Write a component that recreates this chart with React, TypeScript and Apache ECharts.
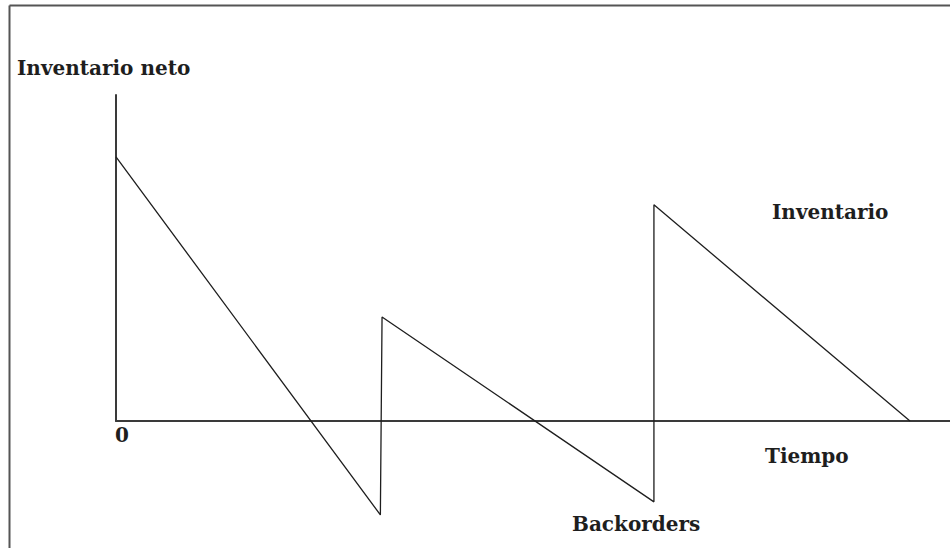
import React, { useEffect, useRef } from "react";
import * as echarts from "echarts";

// Inventory sawtooth (time, net inventory)
const times = [0, 3.17, 3.19, 6.45, 6.45, 9.52];
const netInventory = [8.1, -2.88, 3.19, -2.48, 6.63, 0];

const yAxisTitle = "Inventario neto";
const xAxisTitle = "Tiempo";
const zeroLabel = "0";
const inventoryLabel = "Inventario";
const backorderLabel = "Backorders";

export default function App() {
  const ref = useRef<HTMLDivElement>(null);
  useEffect(() => {
    if (!ref.current) return;
    const chart = echarts.init(ref.current, undefined, { renderer: "svg" });
    const font = "DejaVu Serif";
    const txt = (text: string, x: number, y: number) => ({
      type: "text",
      x,
      y,
      style: {
        text,
        fill: "#1e1e1e",
        font: `bold 20px "${font}"`,
        align: "left",
        verticalAlign: "middle",
      },
    });
    chart.setOption({
      animation: false,
      backgroundColor: "#ffffff",
      grid: { left: 116, right: 0, top: 95, bottom: 127 },
      xAxis: {
        type: "value",
        min: 0,
        max: 10,
        axisLine: { show: true, lineStyle: { color: "#3a3a3a", width: 2 } },
        axisTick: { show: false },
        axisLabel: { show: false },
        splitLine: { show: false },
      },
      yAxis: {
        type: "value",
        min: 0,
        max: 10,
        axisLine: { show: true, lineStyle: { color: "#3a3a3a", width: 2 } },
        axisTick: { show: false },
        axisLabel: { show: false },
        splitLine: { show: false },
      },
      series: [
        {
          type: "line",
          clip: false,
          symbol: "none",
          data: times.map((t, i) => [t, netInventory[i]]),
          lineStyle: { color: "#1e1e1e", width: 1.3 },
        },
      ],
      graphic: [
        {
          type: "line",
          shape: { x1: 9.5, y1: 5.5, x2: 950, y2: 5.5 },
          style: { stroke: "#555", lineWidth: 2 },
        },
        {
          type: "line",
          shape: { x1: 9.5, y1: 5.5, x2: 9.5, y2: 548 },
          style: { stroke: "#555", lineWidth: 2 },
        },
        txt(yAxisTitle, 17, 68),
        txt(zeroLabel, 115, 435),
        txt(inventoryLabel, 772, 212),
        txt(xAxisTitle, 765, 456),
        txt(backorderLabel, 572, 524),
      ],
    });
    return () => chart.dispose();
  }, []);
  return (
    <div
      ref={ref}
      style={{ position: "fixed", left: 0, top: 0, width: 950, height: 548 }}
    />
  );
}
